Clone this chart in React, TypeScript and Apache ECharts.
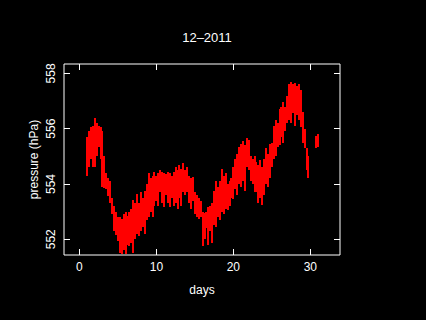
import React, { useEffect, useRef } from "react";
import * as echarts from "echarts";

const titleText = "12–2011";
const xTicks = [0, 10, 20, 30];
const yTicks = [552, 554, 556, 558];

const days = [
  1.0, 1.25, 1.5, 1.75, 2.0, 2.25, 2.5, 2.75, 3.0, 3.25, 3.5, 3.75,
  4.0, 4.25, 4.5, 4.75, 5.0, 5.25, 5.5, 5.75, 6.0, 6.25, 6.5, 6.75,
  7.0, 7.25, 7.5, 7.75, 8.0, 8.25, 8.5, 8.75, 9.0, 9.25, 9.5, 9.75,
  10.0, 10.25, 10.5, 10.75, 11.0, 11.25, 11.5, 11.75, 12.0, 12.25, 12.5, 12.75,
  13.0, 13.25, 13.5, 13.75, 14.0, 14.25, 14.5, 14.75, 15.0, 15.25, 15.5, 15.75,
  16.0, 16.25, 16.5, 16.75, 17.0, 17.25, 17.5, 17.75, 18.0, 18.25, 18.5, 18.75,
  19.0, 19.25, 19.5, 19.75, 20.0, 20.25, 20.5, 20.75, 21.0, 21.25, 21.5, 21.75,
  22.0, 22.25, 22.5, 22.75, 23.0, 23.25, 23.5, 23.75, 24.0, 24.25, 24.5, 24.75,
  25.0, 25.25, 25.5, 25.75, 26.0, 26.25, 26.5, 26.75, 27.0, 27.25, 27.5, 27.75,
  28.0, 28.25, 28.5, 28.75, 29.0, 29.25, 29.5, 29.75, 30.75, 31.0,
];

const lows = [
  554.3, 554.6, 554.9, 554.6, 554.6, 555.0, 555.35, 554.9, 553.9, 553.85, 553.8, 553.55,
  553.3, 552.9, 552.3, 552.15, 551.95, 551.5, 551.45, 551.6, 551.45, 551.8, 551.75, 551.85,
  551.5, 552.0, 552.2, 552.1, 552.3, 552.45, 552.2, 552.7, 552.8, 553.0, 552.8, 553.2,
  553.4, 553.2, 553.7, 553.3, 553.15, 553.6, 553.3, 553.15, 553.5, 553.2, 553.3, 553.1,
  553.5, 553.2, 553.7, 553.6, 553.7, 553.3, 553.1, 553.4, 552.9, 552.8, 552.75, 552.8,
  551.75, 552.0, 552.4, 551.8, 552.3, 551.85, 552.5, 552.45, 552.8, 552.7, 553.0, 552.9,
  553.1, 553.06, 553.2, 553.5, 553.45, 553.8, 553.6, 554.0, 553.9, 554.1, 553.75, 554.6,
  554.5, 554.1, 554.0, 553.7, 553.7, 553.3, 553.5, 553.25, 553.6, 554.0, 553.9, 554.2,
  554.6, 554.9, 555.0, 555.35, 555.4, 555.7, 555.5, 555.9, 556.2, 556.3, 556.2, 556.55,
  556.1, 556.5, 556.3, 556.07, 555.5, 555.3, 554.5, 554.2, 555.3, 555.35,
];

const highs = [
  555.7, 555.9, 556.05, 556.1, 556.4, 556.2, 556.1, 556.05, 555.9, 555.0, 554.4, 554.2,
  554.1, 553.5, 553.2, 553.0, 552.8, 552.8, 552.75, 552.9, 553.0, 552.85, 553.0, 553.1,
  553.42, 553.3, 553.65, 553.3, 553.7, 553.5, 553.75, 554.0, 554.4, 554.2, 554.3, 554.45,
  554.3, 554.4, 554.5, 554.45, 554.4, 554.35, 554.45, 554.4, 554.3, 554.45, 554.6, 554.5,
  554.7, 554.55, 554.75, 554.5, 554.6, 554.3, 554.2, 554.25, 553.7, 553.6, 553.5, 553.4,
  553.0, 552.95, 553.0, 553.15, 553.2, 553.3, 553.75, 554.1, 553.9, 554.1, 554.55, 554.3,
  554.4, 554.0, 554.1, 554.2, 554.6, 554.9, 555.1, 555.35, 555.45, 555.55, 555.4, 555.65,
  555.6, 555.0, 554.9, 555.0, 554.8, 554.7, 554.85, 554.6, 554.9, 555.3, 555.1, 555.45,
  555.5, 556.1, 556.3, 556.2, 556.7, 556.8, 556.95, 556.8, 557.2, 557.6, 557.7, 557.6,
  557.65, 557.55, 557.6, 557.4, 556.6, 556.0, 555.3, 555.0, 555.75, 555.8,
];

const FONT = "Liberation Sans";

export default function App() {
  const ref = useRef<HTMLDivElement>(null);
  useEffect(() => {
    if (!ref.current) return;
    const chart = echarts.init(ref.current, null, { renderer: "svg" });
    const data = days.map((d, i) => [d, lows[i], highs[i]]);
    const axisCommon = {
      axisLine: { show: false, onZero: false },
      splitLine: { show: false },
    };
    const tick = (vals: number[]) => ({
      show: true,
      inside: true,
      length: 6,
      customValues: vals,
      lineStyle: { color: "#ffffff", width: 1 },
    });
    chart.setOption({
      animation: false,
      backgroundColor: "#000000",
      title: {
        text: titleText,
        left: 202,
        top: 26,
        textAlign: "center",
        textStyle: { color: "#ffffff", fontFamily: FONT, fontSize: 13, fontWeight: "normal" },
      },
      grid: {
        left: 64,
        right: 86,
        top: 64,
        bottom: 65,
        show: true,
        borderColor: "#ffffff",
        borderWidth: 1,
        backgroundColor: "transparent",
      },
      xAxis: [
        {
          type: "value",
          min: -2,
          max: 33.85,
          position: "bottom",
          name: "days",
          nameLocation: "middle",
          nameGap: 29,
          nameMoveOverlap: false,
          nameTextStyle: { color: "#ffffff", fontFamily: FONT, fontSize: 12 },
          ...axisCommon,
          axisTick: tick(xTicks),
          axisLabel: { show: true, customValues: xTicks, color: "#ffffff", fontFamily: FONT, fontSize: 12, margin: 6 },
        },
        {
          type: "value",
          min: -2,
          max: 33.85,
          position: "top",
          ...axisCommon,
          axisTick: tick(xTicks),
          axisLabel: { show: false, customValues: xTicks },
        },
      ],
      yAxis: [
        {
          type: "value",
          min: 551.43,
          max: 558.34,
          position: "left",
          name: "pressure (hPa)",
          nameLocation: "middle",
          nameRotate: 90,
          nameGap: 24,
          nameMoveOverlap: false,
          nameTextStyle: { color: "#ffffff", fontFamily: FONT, fontSize: 12 },
          ...axisCommon,
          axisTick: tick(yTicks),
          axisLabel: { show: true, rotate: 90, customValues: yTicks, color: "#ffffff", fontFamily: FONT, fontSize: 12, margin: 7 },
        },
        {
          type: "value",
          min: 551.43,
          max: 558.34,
          position: "right",
          ...axisCommon,
          axisTick: tick(yTicks),
          axisLabel: { show: false, customValues: yTicks },
        },
      ],
      series: [
        {
          type: "custom",
          xAxisIndex: 0,
          yAxisIndex: 0,
          encode: { x: 0, y: [1, 2] },
          data,
          renderItem: (params: any, api: any) => {
            const t = api.value(0);
            const lo = api.value(1);
            const hi = api.value(2);
            const pTop = api.coord([t, hi]);
            const pBot = api.coord([t, lo]);
            const x = Math.round(pTop[0]) - 1;
            const y = Math.round(pTop[1]);
            const h = Math.max(2, Math.round(pBot[1]) - y);
            return {
              type: "rect",
              shape: { x, y, width: 2, height: h },
              style: { fill: "#ff0000" },
            };
          },
        },
      ],
    });
    return () => chart.dispose();
  }, []);
  return (
    <div
      ref={ref}
      style={{ position: "fixed", left: 0, top: 0, width: 426, height: 320, background: "#000" }}
    />
  );
}
